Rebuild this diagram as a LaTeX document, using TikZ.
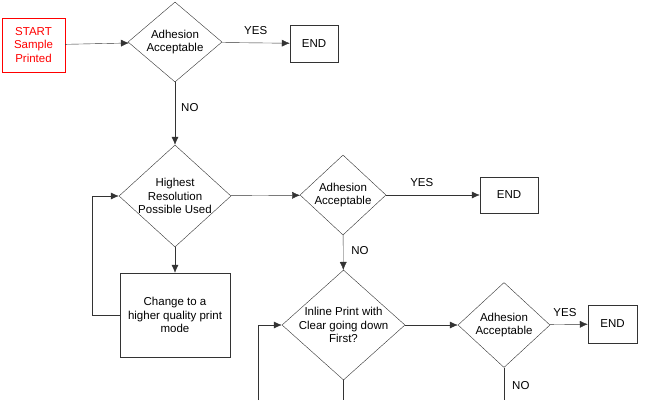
\documentclass[tikz,border=0pt]{standalone}
\usepackage{fontspec}
\setmainfont{Liberation Sans}
\usetikzlibrary{shapes.geometric, arrows.meta}
\tikzstyle{block} = [rectangle, draw, text centered, inner sep=0pt]
\tikzstyle{decision} = [diamond, draw, inner sep=0pt, text centered]
\tikzstyle{blank} = [inner sep=0,outer sep=0]
\tikzstyle{line} = [draw,-{Latex[length=8pt,width=7pt]}]
\tikzstyle{lbl} = [inner sep=0pt]

\begin{document}
\begin{tikzpicture}[x=1pt, y=-1pt, font=\fontsize{11.5}{13.5}\selectfont, draw=black!80]
\useasboundingbox (0,0) rectangle (650,400);

\node [block, draw=red, text=red, minimum width=63pt, minimum height=54pt, align=center] (start) at (33.5,45) {START\\Sample\\Printed};
\node [decision, minimum width=94pt, minimum height=80pt, label={[align=center]center:Adhesion\\Acceptable}] (D1) at (175,42) {};
\node [block, minimum width=48pt, minimum height=37pt] (E1) at (314,43.5) {END};
\node [decision, minimum width=112pt, minimum height=102pt, label={[align=center]center:Highest\\Resolution\\Possible Used}] (D2) at (175,196) {};
\node [block, minimum width=110pt, minimum height=84pt, align=center] (C) at (175,315) {Change to a\\higher quality print\\mode};
\node [decision, minimum width=86pt, minimum height=80pt, label={[align=center]center:Adhesion\\Acceptable}] (D3) at (343,195) {};
\node [block, minimum width=58pt, minimum height=36pt] (E2) at (509,195) {END};
\node [decision, minimum width=123pt, minimum height=110pt, label={[align=center]center:Inline Print with\\Clear going down\\First?}] (D4) at (343.5,325) {};
\node [decision, minimum width=92pt, minimum height=85pt, label={[align=center]center:Adhesion\\Acceptable}] (D5) at (504,325) {};
\node [block, minimum width=49pt, minimum height=38pt] (E3) at (612.5,324) {END};

\coordinate (L1) at (92,315);
\coordinate (L2) at (92,196);
\coordinate (B1) at (258,400);
\coordinate (B2) at (258,325);
\coordinate (B3) at (343.5,400);
\coordinate (B4) at (504,400);

\path [line] (start) -- (D1);
\path [line] (D1) -- node[lbl, above=8pt] {YES} (E1);
\path [line] (D1) -- node[lbl, right=6pt, pos=0.4] {NO} (D2);
\path [line] (D2) -- (C);
\draw (C.west) -- (L1) -- (L2);
\path [line] (L2) -- (D2);
\path [line] (D2) -- (D3);
\path [line] (D3) -- node[lbl, above=8pt, pos=0.38] {YES} (E2);
\path [line] (D3) -- node[lbl, right=8pt, pos=0.45] {NO} (D4);
\draw (B1) -- (B2);
\path [line] (B2) -- (D4);
\draw (D4) -- (B3);
\path [line] (D4) -- (D5);
\path [line] (D5) -- node[lbl, above=8pt, pos=0.4] {YES} (E3);
\draw (D5) -- node[lbl, right=8pt, pos=0.55] {NO} (B4);

\end{tikzpicture}
\end{document}
